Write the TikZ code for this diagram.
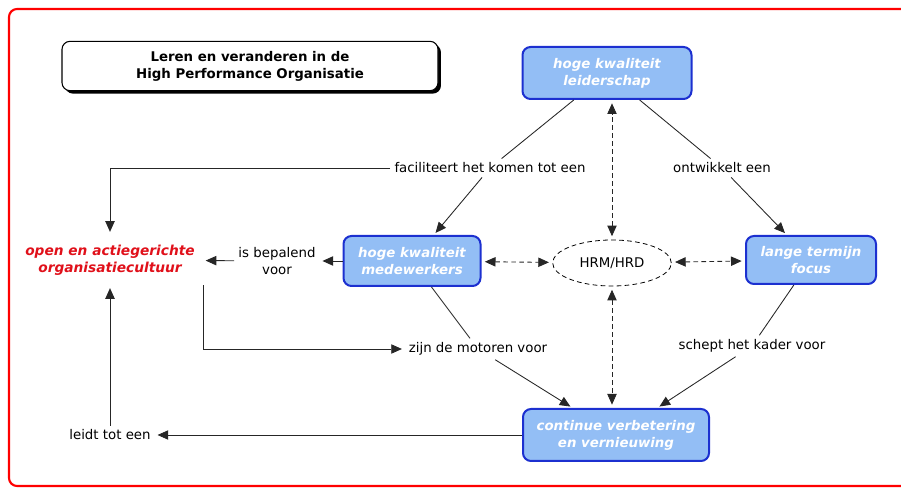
\documentclass[tikz,border=0pt]{standalone}
\usepackage{fontspec}
\setmainfont{DejaVu Sans}
\usetikzlibrary{shapes.geometric, arrows.meta, positioning, shadows}
\definecolor{cmapfill}{HTML}{93BEF5}
\definecolor{cmapline}{HTML}{1C30D0}
\definecolor{cultred}{HTML}{E0101A}

\tikzset{
  concept/.style={draw=cmapline, line width=1.5pt, fill=cmapfill, rounded corners=6pt,
    align=center, text=white, inner sep=2pt,
    font=\fontsize{10}{12.75}\selectfont\bfseries\itshape},
  linkphrase/.style={align=center, inner sep=3pt, fill=white,
    font=\fontsize{10}{12.75}\selectfont},
  link/.style={draw=black!85, line width=0.65pt},
  linkarrow/.style={link, -{Triangle[length=8pt,width=7pt]}, shorten >=2pt},
  hrmlink/.style={link, dash pattern=on 3.5pt off 2.5pt,
    {Triangle[length=8pt,width=7pt]}-{Triangle[length=8pt,width=7pt]},
    shorten >=2.5pt, shorten <=2.5pt},
}

\begin{document}
\begin{tikzpicture}[x=0.75pt, y=-0.75pt]
  \useasboundingbox (0,0) rectangle (901,488);
  \draw[red, line width=1.6pt, rounded corners=6pt] (9,9) rectangle (920,486);

  % titel
  \node[draw, line width=0.8pt, rounded corners=6pt, fill=white,
    general shadow={fill=black, shadow xshift=2.2pt, shadow yshift=-2.2pt},
    minimum width=282pt, minimum height=37pt, align=center,
    font=\fontsize{10}{12.75}\selectfont\bfseries] (title) at (250,66)
    {Leren en veranderen in de\\High Performance Organisatie};

  % concepten
  \node[concept, minimum width=126.75pt, minimum height=39pt] (leiderschap) at (607,73) {hoge kwaliteit\\leiderschap};
  \node[concept, minimum width=102.75pt, minimum height=37.5pt] (medewerkers) at (412,261) {hoge kwaliteit\\medewerkers};
  \node[concept, minimum width=97.5pt, minimum height=36pt] (termijn) at (811,260) {lange termijn\\focus};
  \node[concept, minimum width=139.5pt, minimum height=39pt] (verbetering) at (616,435) {continue verbetering\\en vernieuwing};
  \node[draw, ellipse, line width=0.6pt, dash pattern=on 3.5pt off 2.5pt,
    minimum width=89pt, minimum height=34.5pt,
    font=\fontsize{10}{12.75}\selectfont] (hrm) at (612,263) {HRM/HRD};
  \node[align=center, text=cultred, inner xsep=6pt, inner ysep=7.5pt,
    font=\fontsize{10.3}{12.75}\selectfont\bfseries\itshape] (cultuur) at (110,260)
    {open en actiegerichte\\organisatiecultuur};

  % verbindende zinnen
  \node[linkphrase] (faciliteert) at (490,168) {faciliteert het komen tot een};
  \node[linkphrase] (ontwikkelt) at (722,168) {ontwikkelt een};
  \node[linkphrase] (bepalend) at (277,261) {is bepalend\\voor};
  \node[linkphrase] (motoren) at (478,349) {zijn de motoren voor};
  \node[linkphrase] (kader) at (752,346) {schept het kader voor};
  \node[linkphrase] (leidt) at (110,435) {leidt tot een};

  % verbindingen
  \draw[link] (leiderschap) -- (faciliteert);
  \draw[linkarrow] (faciliteert) -- (medewerkers);
  \draw[linkarrow] (faciliteert.west) -| (cultuur.north);
  \draw[link] (leiderschap) -- (ontwikkelt);
  \draw[linkarrow] (ontwikkelt) -- (termijn);
  \draw[linkarrow] (medewerkers) -- (bepalend);
  \draw[linkarrow] (bepalend) -- (cultuur);
  \draw[link] (medewerkers) -- (motoren);
  \draw[linkarrow] (motoren) -- (verbetering);
  \draw[linkarrow] (cultuur.south east) |- (motoren.west);
  \draw[link] (termijn) -- (kader);
  \draw[linkarrow] (kader) -- (verbetering);
  \draw[linkarrow] (verbetering) -- (leidt);
  \draw[linkarrow] (leidt) -- (cultuur);

  % HRM/HRD
  \draw[hrmlink] (hrm.north) -- (hrm.north |- leiderschap.south);
  \draw[hrmlink] (hrm.south) -- (hrm.south |- verbetering.north);
  \draw[hrmlink] (medewerkers) -- (hrm);
  \draw[hrmlink] (hrm) -- (termijn);
\end{tikzpicture}
\end{document}
